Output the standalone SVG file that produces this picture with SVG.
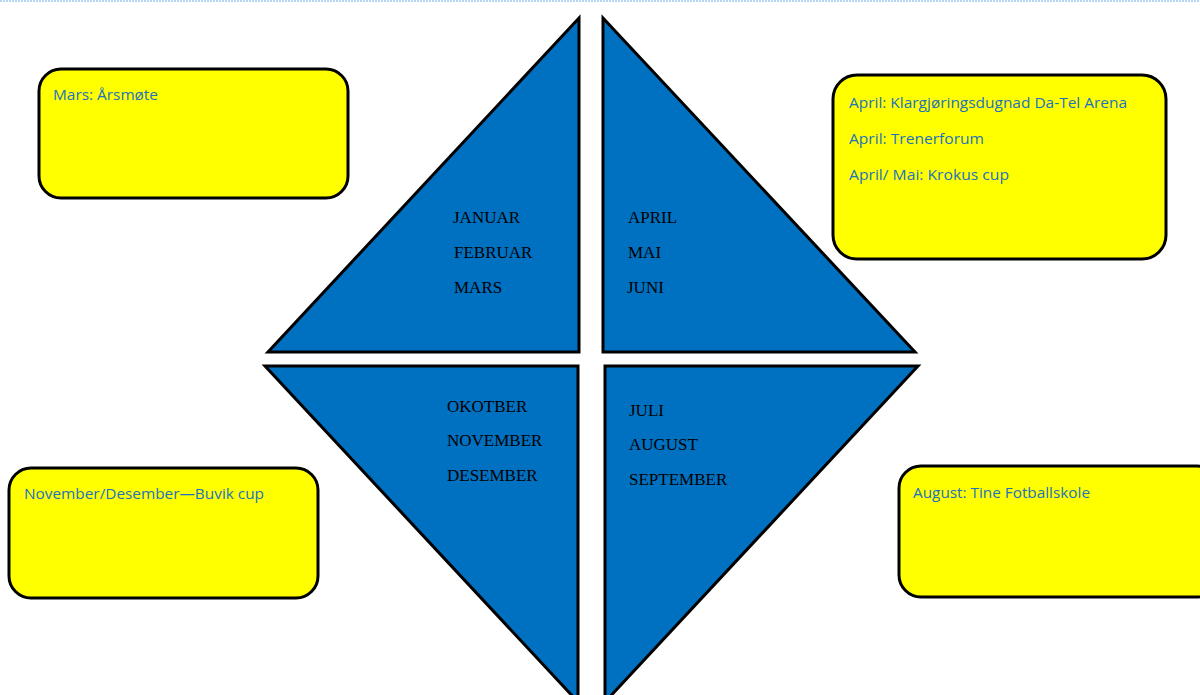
<svg xmlns="http://www.w3.org/2000/svg" width="1200" height="695" viewBox="0 0 1200 695">
<style>
.tri{fill:#0070C0;stroke:#000;stroke-width:3;stroke-linejoin:miter}
.box{fill:#FFFF00;stroke:#000;stroke-width:3}
.note{font-family:"Open Sans","Liberation Sans",sans-serif;font-size:14.5px;fill:#1D72BE}
.month{font-family:"Liberation Serif","Times New Roman",serif;font-size:17px;fill:#000}
</style>
<rect width="1200" height="695" fill="#fff"/>
<line x1="0" y1="1" x2="1200" y2="1" stroke="#9CC8F0" stroke-width="1.5" stroke-dasharray="2,1"/>
<g id="connectors"></g>
<g id="q1">
<polygon class="tri" points="579,18 579,352 268,352"/>
<text class="month" x="453" y="223">JANUAR</text>
<text class="month" x="454" y="258">FEBRUAR</text>
<text class="month" x="454" y="293">MARS</text>
</g>
<g id="q2">
<polygon class="tri" points="603,18 603,352 915,352"/>
<text class="month" x="628" y="223">APRIL</text>
<text class="month" x="628" y="258">MAI</text>
<text class="month" x="627" y="293">JUNI</text>
</g>
<g id="q4">
<polygon class="tri" points="265,366 578,366 578,702"/>
<text class="month" x="447" y="412">OKOTBER</text>
<text class="month" x="447" y="446">NOVEMBER</text>
<text class="month" x="447" y="481">DESEMBER</text>
</g>
<g id="q3">
<polygon class="tri" points="605,366 918,366 605,702"/>
<text class="month" x="629" y="416">JULI</text>
<text class="month" x="629" y="450">AUGUST</text>
<text class="month" x="629" y="485">SEPTEMBER</text>
</g>
<g id="box-mars">
<rect class="box" x="39" y="69" width="309" height="129" rx="22"/>
<text class="note" x="53" y="100" textLength="105" lengthAdjust="spacingAndGlyphs">Mars: Årsmøte</text>
</g>
<g id="box-april">
<rect class="box" x="833" y="75" width="333" height="184" rx="24"/>
<text class="note" x="849" y="108" textLength="278" lengthAdjust="spacingAndGlyphs">April: Klargjøringsdugnad Da-Tel Arena</text>
<text class="note" x="849" y="144" textLength="135" lengthAdjust="spacingAndGlyphs">April: Trenerforum</text>
<text class="note" x="849" y="180" textLength="160" lengthAdjust="spacingAndGlyphs">April/ Mai: Krokus cup</text>
</g>
<g id="box-november">
<rect class="box" x="9" y="468" width="309" height="130" rx="22"/>
<text class="note" x="24" y="499" textLength="240" lengthAdjust="spacingAndGlyphs">November/Desember—Buvik cup</text>
</g>
<g id="box-august">
<rect class="box" x="899" y="466" width="320" height="131" rx="22"/>
<text class="note" x="913" y="498" textLength="177" lengthAdjust="spacingAndGlyphs">August: Tine Fotballskole</text>
</g>
</svg>
